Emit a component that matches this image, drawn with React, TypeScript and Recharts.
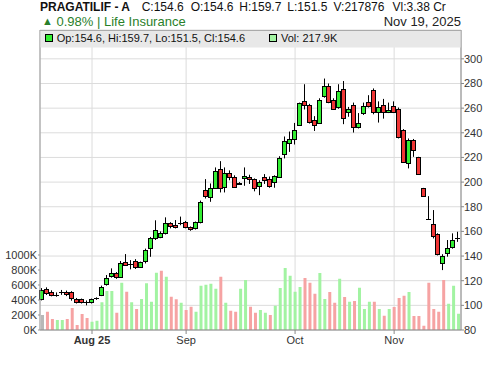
import React from "react";
import { ComposedChart, Bar, XAxis, YAxis, CartesianGrid, Cell } from "recharts";

const FONT = '"Liberation Sans", Arial, sans-serif';

// daily OHLC, oldest first (last = Nov 19, 2025)
const opens = [
  104.8, 113, 110.8, 108.6, 111, 111, 110.6, 105, 104.8, 102.5,
  102.5, 105.7, 108.4, 117, 124, 126, 123.2, 135.4, 133.2, 136.2,
  131.3, 136.2, 146.2, 154.3, 155.7, 158.4, 166.5, 164.9, 166.5, 167.8,
  163.2, 162.4, 167.3, 193.9, 188, 195.6, 210.5, 196.2, 207, 204.3,
  199.2, 203, 204.3, 202.2, 197.2, 203.8, 202.4, 200.2, 204.3, 223.2,
  232.1, 235.3, 246.7, 265.6, 262.4, 250.2, 248.3, 269.6, 277.8, 267,
  261, 275.4, 256.5, 262.4, 244.3, 255.7, 264.6, 275.1, 256.5, 262.4,
  257.2, 261.6, 259.7, 242.6, 215.6, 234.5, 220, 194.9, 169.8, 165.7,
  157.8, 134, 142.7, 147, 154.6,
];
const highs = [
  114, 114.6, 112.2, 110.5, 112.5, 112, 111.5, 106, 105.5, 104,
  105.5, 106.5, 116, 124.6, 130, 127, 136, 141.6, 136.7, 137.5,
  135.5, 146, 155.5, 169, 160, 171.4, 167.5, 169.2, 172, 168.5,
  164, 168, 185, 202.4, 198.9, 211.9, 217, 211.9, 209.5, 205.5,
  200, 211.9, 206, 203, 201.5, 206.5, 204.5, 205.5, 221, 237,
  241, 248, 264.5, 279.4, 263.5, 253.5, 268, 284, 280, 268,
  279.4, 282, 261, 264.5, 256, 264.5, 270.5, 276, 265.5, 267.5,
  264.5, 265.5, 260.5, 243, 235.4, 235, 220.5, 195.3, 188.6, 177.3,
  158.5, 141.5, 153, 158.4, 159.7,
];
const lows = [
  104, 108.4, 107.3, 107, 108.5, 107.5, 103.8, 101.5, 101.5, 100,
  101.5, 104.5, 107.5, 116, 122.5, 121.5, 122.5, 132, 129.2, 129.5,
  130.5, 134, 139.4, 153, 154.5, 157.5, 162.5, 162.4, 165, 162.5,
  160.5, 161.5, 166.5, 186.7, 184, 194.5, 191.6, 191.6, 201.5, 195.5,
  198, 197, 198.5, 192.5, 189.4, 198.5, 195.4, 195.4, 203.5, 219.2,
  224.5, 230.5, 245.5, 258.9, 247.5, 241.5, 247.5, 268.5, 264, 258.9,
  259.5, 247, 253, 240.2, 243.5, 254.5, 260.5, 255, 248.3, 251.5,
  256, 256, 235.4, 215.5, 211.1, 220.5, 206, 188.3, 169.7, 154.3,
  140.5, 128.6, 139.5, 146, 151.5,
];
const closes = [
  112.5, 109.7, 108.4, 108.6, 111, 108.9, 105.7, 102.8, 102.6, 102.5,
  104.9, 105.7, 114.6, 121.9, 126, 123.2, 134, 132.7, 133.2, 131.3,
  134.9, 144.9, 154.3, 161.1, 158.4, 166.5, 164.3, 163.2, 166.5, 163.2,
  161.6, 167.3, 184, 188.6, 195.6, 208.9, 194.9, 207, 203.8, 196.2,
  198.8, 204.8, 202.2, 195.6, 200.4, 201.6, 197, 204.8, 219.2, 233.2,
  235.3, 242.6, 263.8, 262.4, 248.9, 246.2, 266.9, 277.8, 265.1, 259.7,
  273.7, 252.4, 259.7, 244.3, 248.3, 261.6, 261.8, 256.5, 261, 256.5,
  258.8, 257, 236.2, 215.9, 234.5, 225.9, 206.5, 188.6, 169.8, 156.5,
  141.4, 140, 146.2, 153.1, 154.6,
];
const volumes = [
  200000, 244000, 147000, 133000, 133000, 147000, 293000, 67000, 213000, 160000,
  111000, 124000, 369000, 520000, 520000, 231000, 631000, 511000, 369000, 280000,
  413000, 622000, 378000, 764000, 791000, 711000, 444000, 409000, 364000, 267000,
  311000, 244000, 591000, 604000, 618000, 551000, 711000, 364000, 258000, 244000,
  551000, 667000, 311000, 231000, 267000, 231000, 200000, 324000, 560000, 827000,
  724000, 511000, 573000, 693000, 631000, 484000, 760000, 413000, 507000, 364000,
  684000, 440000, 378000, 387000, 564000, 280000, 378000, 378000, 280000, 191000,
  280000, 307000, 427000, 458000, 507000, 187000, 187000, 58000, 631000, 280000,
  244000, 667000, 351000, 591000, 217876,
];

const monthTickIdx = [10, 29, 51, 71];
const monthTickLabels = ["Aug 25", "Sep", "Oct", "Nov"];
const priceTicks = [80, 100, 120, 140, 160, 180, 200, 220, 240, 260, 280, 300];
const volumeTicks = [0, 200000, 400000, 600000, 800000, 1000000];

const data = opens.map((o, i) => ({
  i,
  o,
  h: highs[i],
  l: lows[i],
  c: closes[i],
  v: volumes[i],
  dir: i === 0 ? 0 : closes[i] >= closes[i - 1] ? 1 : -1,
}));

const volColor = (dir: number) => (dir > 0 ? "#a2f3a2" : dir < 0 ? "#f6a3a3" : "#b8b8b8");

function Candle(props: any) {
  const { x, y, width, height, payload } = props;
  if (!payload || x == null || y == null) return null;
  const top = Math.min(y, y + height);
  const bot = Math.max(y, y + height);
  const { o, h, l, c } = payload;
  const ppu = h > l ? (bot - top) / (h - l) : 0;
  const py = (v: number) => bot - (v - l) * ppu;
  const n = Math.round(x + width / 2);
  const bTop = Math.round(py(Math.max(o, c))) + 0.5;
  const bBot = Math.round(py(Math.min(o, c))) + 0.5;
  return (
    <g>
      <line x1={n - 0.5} x2={n - 0.5} y1={top} y2={bot} stroke="#000" strokeWidth={1} />
      {bBot - bTop < 1 ? (
        <line x1={n - 3} x2={n + 2} y1={bTop} y2={bTop} stroke="#000" strokeWidth={1} />
      ) : (
        <rect
          x={n - 2.5}
          y={bTop}
          width={4}
          height={bBot - bTop}
          fill={c >= o ? "#33ee33" : "#f03535"}
          stroke="#000"
          strokeWidth={1}
        />
      )}
    </g>
  );
}

function MonthTick(props: any) {
  const { x, y, payload } = props;
  const k = monthTickIdx.indexOf(payload.value);
  return (
    <text x={x} y={y} dy="0.71em" textAnchor="middle" fontSize={11} fontFamily={FONT}
      fontWeight={k === 0 ? "bold" : "normal"} fill="#333">
      {k >= 0 ? monthTickLabels[k] : ""}
    </text>
  );
}

export default function App() {
  const axisTick = { fontSize: 11, fill: "#333", fontFamily: FONT };
  return (
    <div style={{ position: "absolute", left: 0, top: 0, width: 500, height: 366, background: "#fff" }}>
      <ComposedChart width={500} height={366} data={data} margin={{ top: 30, right: 0, bottom: 0, left: 0 }}>
        <CartesianGrid xAxisId="c" yAxisId="price" stroke="#dcdcdc" />
        <XAxis xAxisId="c" dataKey="i" type="category" ticks={monthTickIdx} interval={0} height={36}
          tick={<MonthTick />} tickSize={4} tickMargin={2} stroke="#888" tickLine={{ stroke: "#888" }} />
        <XAxis xAxisId="v" dataKey="i" type="category" hide />
        <YAxis yAxisId="vol" orientation="left" width={40} domain={[0, 4000000]} ticks={volumeTicks}
          interval={0} tickFormatter={(v: number) => `${v / 1000}K`} tick={axisTick} tickSize={2}
          tickMargin={1} stroke="#999" allowDataOverflow />
        <YAxis yAxisId="price" orientation="right" width={39} domain={[80, 323.4]} ticks={priceTicks}
          interval={0} tick={axisTick} tickSize={3} tickMargin={0} stroke="#888" allowDataOverflow />
        <Bar xAxisId="v" yAxisId="vol" dataKey="v" barSize={3} isAnimationActive={false}>
          {data.map((d) => (
            <Cell key={d.i} fill={volColor(d.dir)} />
          ))}
        </Bar>
        <Bar xAxisId="c" yAxisId="price" dataKey={(d: any) => [d.l, d.h]} barSize={5}
          shape={(p: any) => <Candle {...p} />} isAnimationActive={false} />
      </ComposedChart>
      <svg width={500} height={50} style={{ position: "absolute", left: 0, top: 0, pointerEvents: "none" }}
        fontFamily={FONT}>
        <text x={40} y={11} fontSize={12} fontWeight="bold" fill="#111">PRAGATILIF - A</text>
        <text x={141.7} y={11} fontSize={12} fill="#111">C:154.6</text>
        <text x={190.7} y={11} fontSize={12} fill="#111">O:154.6</text>
        <text x={239.3} y={11} fontSize={12} fill="#111">H:159.7</text>
        <text x={287.3} y={11} fontSize={12} fill="#111">L:151.5</text>
        <text x={333.5} y={11} fontSize={12} fill="#111">V:217876</text>
        <text x={392.5} y={11} fontSize={12} fill="#111">Vl:3.38 Cr</text>
        <text x={42} y={25} fontSize={11} fill="#2a7f2a">▲</text>
        <text x={56.5} y={26} fontSize={13} fill="#2a7f2a">0.98% | Life Insurance</text>
        <text x={461} y={26} fontSize={13} textAnchor="end" fill="#222">Nov 19, 2025</text>
        <rect x={40.5} y={30.5} width={420} height={17} fill="#e8e8e8" stroke="none" />
        <line x1={40} x2={461} y1={30.5} y2={30.5} stroke="#aaa" />
        <rect x={45.5} y={34.5} width={7} height={7} fill="#33ee33" stroke="#000" />
        <text x={56.7} y={41.5} fontSize={11} fill="#111">Op:154.6, Hi:159.7, Lo:151.5, Cl:154.6</text>
        <rect x={269.5} y={34.5} width={7} height={7} fill="#a2f3a2" stroke="#000" />
        <text x={281} y={41.5} fontSize={11} fill="#111">Vol: 217.9K</text>
      </svg>
    </div>
  );
}
